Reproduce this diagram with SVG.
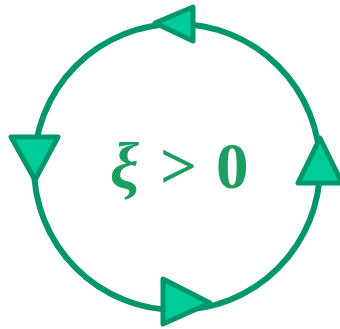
<svg xmlns="http://www.w3.org/2000/svg" width="340" height="329" viewBox="0 0 340 329">
<style>
.ring{fill:none;stroke:#00966B;stroke-width:6}
.arrow{fill:#00CC99;stroke:#00966B;stroke-width:5;stroke-linejoin:round}
.lbl{font-family:"Liberation Serif","Times New Roman",serif;font-weight:bold;font-size:65px;fill:#1B9E60}
</style>
<rect width="340" height="329" fill="#ffffff"/>
<g id="connectors">
<circle class="ring" cx="177" cy="167" r="143"/>
</g>
<g id="arrow-top"><polygon class="arrow" points="193,7 193,41 155,23"/></g>
<g id="arrow-left"><polygon class="arrow" points="11,137 58,137 35,180"/></g>
<g id="arrow-right"><polygon class="arrow" points="298,183 342,183 320,138"/></g>
<g id="arrow-bottom"><polygon class="arrow" points="163,279 163,324 210,303"/></g>
<g id="label">
<text class="lbl" y="188"><tspan x="110" font-style="italic">ξ</tspan><tspan x="160">&gt;</tspan><tspan x="216">0</tspan></text>
</g>
</svg>
